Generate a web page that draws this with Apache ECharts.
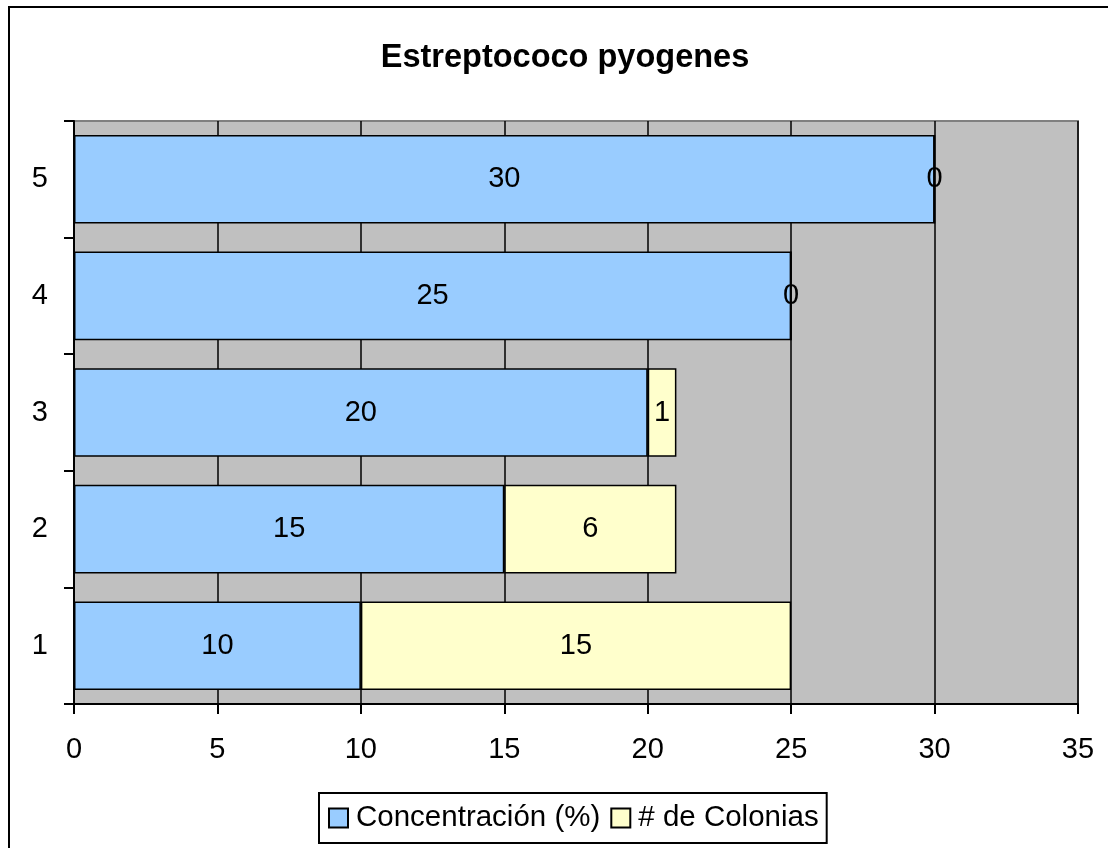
<!DOCTYPE html>
<html>
<head>
<meta charset="utf-8">
<script src="https://cdn.jsdelivr.net/npm/echarts@6/dist/echarts.min.js"></script>
<style>
html,body{margin:0;padding:0;background:#fff;}
#chart{width:1108px;height:848px;}
</style>
</head>
<body>
<div id="chart"></div>
<script>
const titleText = 'Estreptococo pyogenes';
const categories = ['1', '2', '3', '4', '5'];
const seriesNames = ['Concentración (%)', '# de Colonias'];
const concentracion = [10, 15, 20, 25, 30];
const colonias = [15, 6, 1, 0, 0];
const xTicks = { min: 0, max: 35, interval: 5 };

const FONT = '"Liberation Sans", Arial, sans-serif';
const chart = echarts.init(document.getElementById('chart'), null, { renderer: 'canvas' });

const barStyle = (color) => ({ color: color, borderColor: '#000', borderWidth: 1.5 });
const lbl = { show: true, position: 'inside', color: '#000', fontSize: 29, fontFamily: FONT };

chart.setOption({
  animation: false,
  backgroundColor: '#fff',
  graphic: [{
    type: 'rect',
    shape: { x: 9, y: 7, width: 1200, height: 900 },
    style: { fill: 'none', stroke: '#000', lineWidth: 2 },
    z: 100
  }],
  title: {
    text: titleText,
    left: 560, top: 37, textAlign: 'center',
    textStyle: { fontFamily: FONT, fontSize: 32.5, fontWeight: 'bold', color: '#000' }
  },
  legend: {
    left: 319, top: 793,
    padding: [10, 8, 10, 9],
    itemWidth: 19, itemHeight: 19, itemGap: 10,
    borderColor: '#000', borderWidth: 2,
    icon: 'rect',
    itemStyle: { borderColor: '#000', borderWidth: 2 },
    textStyle: { fontFamily: FONT, fontSize: 29.5, color: '#000', padding: [0, 0, 0, 3] },
    data: seriesNames
  },
  grid: {
    left: 74, right: 30, top: 121, bottom: 144,
    show: true, backgroundColor: '#C0C0C0', borderColor: '#808080', borderWidth: 2
  },
  xAxis: {
    type: 'value', min: xTicks.min, max: xTicks.max, interval: xTicks.interval,
    axisLine: { show: true, lineStyle: { color: '#000', width: 2 } },
    axisTick: { show: true, length: 10, lineStyle: { color: '#000', width: 2 } },
    axisLabel: { fontFamily: FONT, fontSize: 29, color: '#000', margin: 31 },
    splitLine: { show: true, lineStyle: { color: '#000', width: 1.5 } }
  },
  yAxis: {
    type: 'category', data: categories,
    axisLine: { show: true, lineStyle: { color: '#000', width: 2 } },
    axisTick: { show: true, length: 10, lineStyle: { color: '#000', width: 2 } },
    axisLabel: { fontFamily: FONT, fontSize: 29, color: '#000', margin: 26 },
    splitLine: { show: false }
  },
  series: [
    { name: seriesNames[0], type: 'bar', stack: 's', data: concentracion, barCategoryGap: '24%',
      itemStyle: barStyle('#99CCFF'), label: lbl },
    { name: seriesNames[1], type: 'bar', stack: 's', data: colonias, barCategoryGap: '24%',
      itemStyle: barStyle('#FFFFCC'), label: lbl }
  ]
});
</script>
</body>
</html>
